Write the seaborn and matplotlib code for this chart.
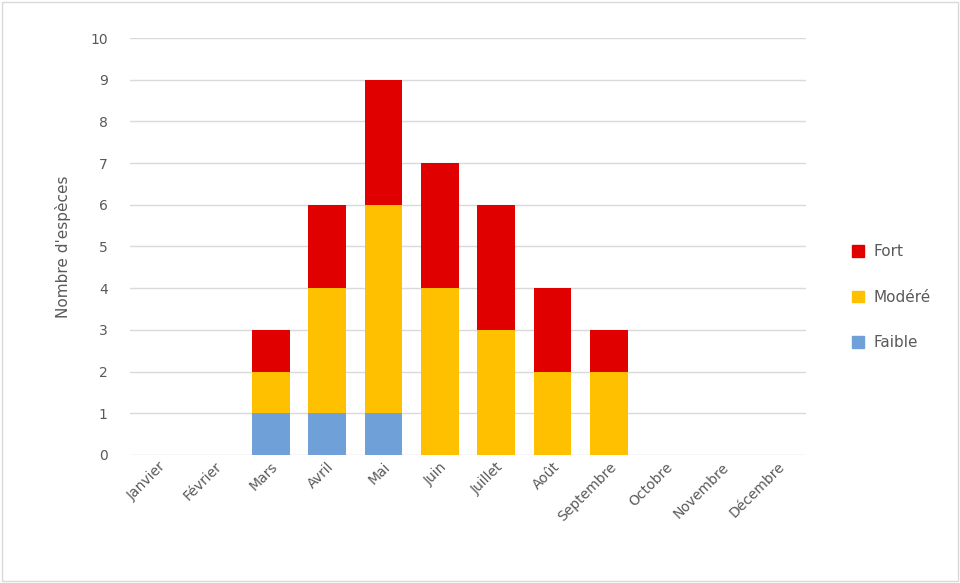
import matplotlib
matplotlib.use("Agg")
import matplotlib.pyplot as plt
import seaborn as sns
import pandas as pd
from matplotlib.patches import Patch

months = ["Janvier", "Février", "Mars", "Avril", "Mai", "Juin", "Juillet",
          "Août", "Septembre", "Octobre", "Novembre", "Décembre"]
faible = [0, 0, 1, 1, 1, 0, 0, 0, 0, 0, 0, 0]
modere = [0, 0, 1, 3, 5, 4, 3, 2, 2, 0, 0, 0]
fort = [0, 0, 1, 2, 3, 3, 3, 2, 1, 0, 0, 0]

colors = {"Fort": "#E00000", "Modéré": "#FFC000", "Faible": "#6FA0D8"}

df = pd.DataFrame({"mois": months, "Faible": faible, "Modéré": modere, "Fort": fort})
df["c_faible"] = df["Faible"]
df["c_modere"] = df["Faible"] + df["Modéré"]
df["c_fort"] = df["c_modere"] + df["Fort"]

sns.set_style("white")
fig = plt.figure(figsize=(9.6, 5.83), dpi=100)
ax = fig.add_axes([0.1354, 0.2196, 0.7042, 0.7152])

# stacked bars drawn as overlapping cumulative totals
for col, name in [("c_fort", "Fort"), ("c_modere", "Modéré"), ("c_faible", "Faible")]:
    sns.barplot(data=df, x="mois", y=col, color=colors[name], saturation=1,
                width=0.67, ax=ax, linewidth=0, zorder=3)

ax.set_ylim(0, 10)
ax.set_xlim(-0.5, 11.5)
ax.set_yticks(range(0, 11))
ax.yaxis.grid(True, color="#D9D9D9", linewidth=1, zorder=0)
ax.set_axisbelow(True)
for s in ax.spines.values():
    s.set_visible(False)
ax.tick_params(axis="both", length=0, colors="#595959", labelsize=10)
ax.tick_params(axis="y", pad=16)
plt.setp(ax.get_xticklabels(), rotation=45, ha="right", rotation_mode="anchor")
ax.set_xlabel("")
ax.set_ylabel("Nombre d'espèces", color="#595959", fontsize=11, labelpad=14)

handles = [Patch(color=colors[n], label=n) for n in ["Fort", "Modéré", "Faible"]]
fig.legend(handles=handles, loc="center left", bbox_to_anchor=(0.873, 0.49),
           frameon=False, handlelength=0.8, handleheight=0.8, labelspacing=2.0,
           handletextpad=0.6, fontsize=11, labelcolor="#595959")

fig.add_artist(plt.Rectangle((0.002, 0.003), 0.996, 0.994, transform=fig.transFigure,
                             fill=False, edgecolor="#D9D9D9", linewidth=1))

fig.savefig("out.png", dpi=100)
